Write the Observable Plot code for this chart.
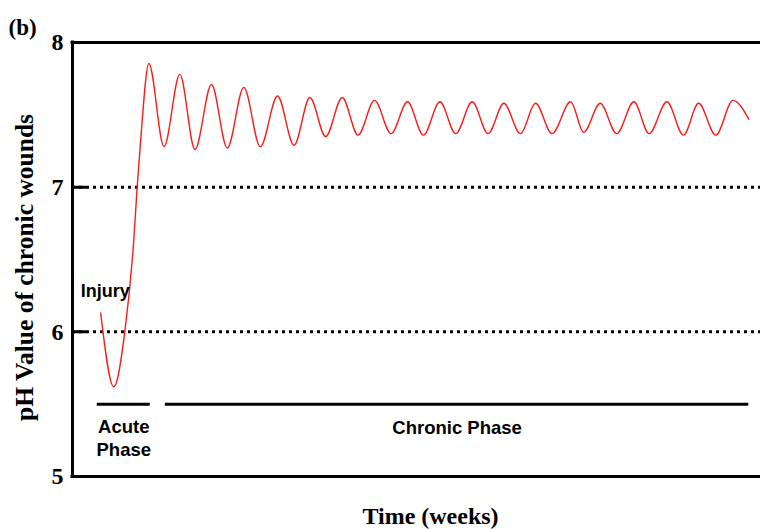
<!DOCTYPE html>
<html>
<head>
<meta charset="utf-8">
<script src="https://cdn.jsdelivr.net/npm/d3@7"></script>
<script src="https://cdn.jsdelivr.net/npm/@observablehq/plot@0.6"></script>
<style>
  html, body { margin: 0; padding: 0; background: #fff; }
</style>
</head>
<body>
<script>
// Time in arbitrary units (0–100 across the frame), pH values
const time = [4.1, 6.0, 7.6, 8.9, 9.4, 9.9, 11.1, 13.3, 15.6, 17.8, 20.2, 22.5, 24.9, 27.3, 29.8, 32.2, 34.5, 36.8, 39.2, 41.5, 43.9, 46.3, 48.7, 51.0, 53.4, 55.7, 58.1, 60.4, 62.7, 65.1, 67.3, 69.7, 72.4, 74.3, 76.7, 79.1, 81.6, 83.8, 86.4, 88.8, 91.0, 93.5, 96.0, 98.3];
const pH   = [6.13, 5.62, 6.00, 6.63, 7.00, 7.32, 7.855, 7.28, 7.78, 7.26, 7.71, 7.27, 7.69, 7.28, 7.63, 7.29, 7.62, 7.35, 7.62, 7.36, 7.60, 7.37, 7.59, 7.36, 7.59, 7.37, 7.59, 7.37, 7.58, 7.37, 7.58, 7.37, 7.59, 7.38, 7.58, 7.37, 7.59, 7.37, 7.59, 7.36, 7.58, 7.36, 7.60, 7.47];

const yTicks = [5, 6, 7, 8];
const dottedLevels = [6, 7];

const phaseNames = ["Acute\nPhase", "Chronic Phase"];
const phaseStart = [3.6, 13.5];
const phaseEnd   = [11.3, 98.3];
const phaseLevel = 5.5;

const injuryLabel = "Injury";
const injuryTime = 1.2;
const injuryPH = 6.24;

const panelLabel = "(b)";
const xTitle = "Time (weeks)";
const yTitle = "pH Value of chronic wounds";

const curve = time.map((t, i) => ({t, v: pH[i]}));
const phases = phaseNames.map((name, i) => ({name, start: phaseStart[i], end: phaseEnd[i], mid: (phaseStart[i] + phaseEnd[i]) / 2, level: phaseLevel}));

const serif = "'Liberation Serif', 'Times New Roman', serif";
const sans = "'Liberation Sans', Arial, sans-serif";

const tickShape = {draw(context, l) { context.moveTo(0, 0); context.lineTo(0, -l); }};
const phaseText = {x: "mid", y: "level", text: "name", lineAnchor: "bottom", lineHeight: 1.26, fontFamily: sans, fontWeight: "bold", fontSize: 18.5, fill: "#000"};

const chart = Plot.plot({
  width: 760,
  height: 529,
  marginLeft: 72,
  marginRight: 0,
  marginTop: 42,
  marginBottom: 53,
  x: {domain: [0, 100], axis: null},
  y: {domain: [5, 8], axis: null},
  style: {background: "#fff", overflow: "visible"},
  marks: [
    // dotted reference lines
    Plot.ruleY(dottedLevels, {stroke: "#000", strokeWidth: 3, strokeDasharray: "3 4"}),
    // inward ticks
    Plot.vector(dottedLevels, {y: d => d, frameAnchor: "left", rotate: 90, length: 13, anchor: "start", shape: tickShape, stroke: "#000", strokeWidth: 3}),
    // frame
    Plot.ruleY([5, 8], {stroke: "#000", strokeWidth: 3, strokeLinecap: "square"}),
    Plot.ruleX([0], {stroke: "#000", strokeWidth: 3, strokeLinecap: "square"}),
    // phase bars
    Plot.ruleY(phases, {y: "level", x1: "start", x2: "end", stroke: "#000", strokeWidth: 3}),
    Plot.text(phases.slice(0, 1), {...phaseText, dy: 52.3}),
    Plot.text(phases.slice(1), {...phaseText, dy: 29.5}),
    // curve
    Plot.line(curve, {x: "t", y: "v", curve: "monotone-x", stroke: "#ff1a1a", strokeWidth: 1.4}),
    // injury label
    Plot.text([injuryLabel], {x: [injuryTime], y: [injuryPH], text: d => d, textAnchor: "start", lineAnchor: "bottom", fontFamily: sans, fontWeight: "bold", fontSize: 18, fill: "#000"}),
    // y tick labels
    Plot.text(yTicks, {y: d => d, text: d => String(d), frameAnchor: "left", dx: -9, textAnchor: "end", lineAnchor: "middle", fontFamily: serif, fontWeight: "bold", fontSize: 24, fill: "#000"}),
    // y title
    Plot.text([yTitle], {text: d => d, frameAnchor: "left", rotate: -90, dx: -40, dy: 8, textAnchor: "middle", lineAnchor: "bottom", fontFamily: serif, fontWeight: "bold", fontSize: 25.5, fill: "#000"}),
    // x title
    Plot.text([xTitle], {text: d => d, frameAnchor: "bottom", dx: 14, dy: 47, textAnchor: "middle", lineAnchor: "bottom", fontFamily: serif, fontWeight: "bold", fontSize: 24, fill: "#000"}),
    // panel label
    Plot.text([panelLabel], {text: d => d, frameAnchor: "top-left", dx: -64, dy: -8, textAnchor: "start", lineAnchor: "bottom", fontFamily: serif, fontWeight: "bold", fontSize: 23, fill: "#000"})
  ]
});
document.body.appendChild(chart);
</script>
</body>
</html>
